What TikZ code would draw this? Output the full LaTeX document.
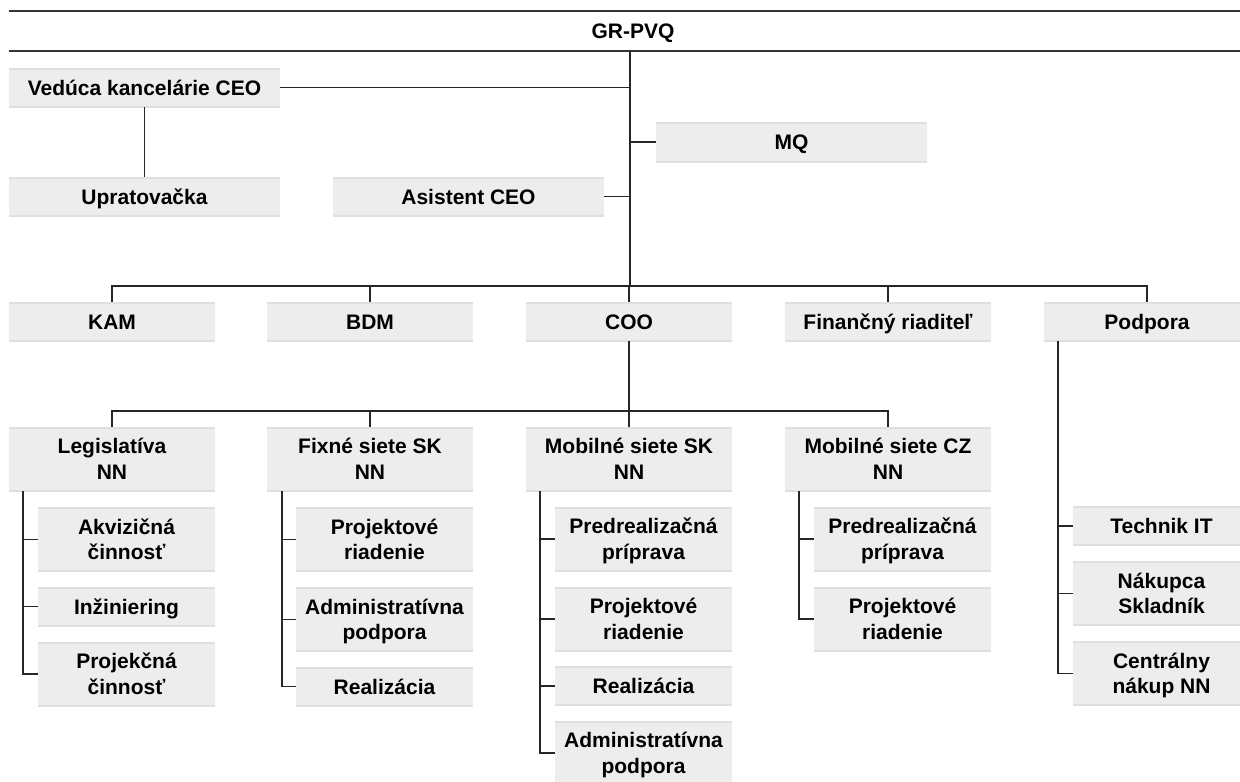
\documentclass[tikz,border=0pt]{standalone}
\usepackage{fontspec}
\setmainfont{Liberation Sans}
\definecolor{boxfill}{HTML}{EDEDED}
\definecolor{boxedge}{HTML}{DFDFDF}
\definecolor{conncol}{HTML}{262626}
\definecolor{topcol}{HTML}{333333}
\begin{document}
\begin{tikzpicture}[x=1pt,y=-1pt,
  box/.style={rectangle, fill=boxfill, inner sep=0pt, align=center,
    font=\bfseries\fontsize{21}{25.5}\selectfont,
    text height=15pt, text depth=0pt,
    minimum width=206pt, minimum height=39pt,
    path picture={\draw[boxedge,line width=3pt]
      (path picture bounding box.north west) -- (path picture bounding box.north east)
      (path picture bounding box.south west) -- (path picture bounding box.south east);}},
  two/.style={text height=40.5pt, text depth=0pt, minimum height=64pt},
  sub/.style={minimum width=177pt},
  wide/.style={minimum width=271pt},
  conn/.style={draw=conncol, line width=1.3pt},
  topline/.style={draw=topcol, line width=1.8pt}]
\useasboundingbox (0,0) rectangle (1240,782);
\fill[white] (0,0) rectangle (1240,782);
\clip (0,0) rectangle (1240,782);

% top
\node[box, fill=none, path picture={}, minimum width=1248pt, minimum height=40pt] (gr) at (633,31) {GR-PVQ};
\draw[topline] (gr.north west) -- (gr.north east);
\draw[topline] (gr.south west) -- (gr.south east);

% upper staff
\node[box, wide] (ved) at (144.5,87.5) {Vedúca kancelárie CEO};
\node[box, wide] (upr) at (144.5,196.5) {Upratovačka};
\node[box, wide] (asi) at (468.5,196.5) {Asistent CEO};
\node[box, wide, minimum height=40pt] (mq) at (791.5,142) {MQ};

% level 2
\node[box] (kam) at (112,321.5) {KAM};
\node[box] (bdm) at (370,321.5) {BDM};
\node[box] (coo) at (629,321.5) {COO};
\node[box] (fin) at (888,321.5) {Finančný riaditeľ};
\node[box] (pod) at (1147,321.5) {Podpora};

% level 3
\node[box, two] (leg) at (112,459) {Legislatíva\\NN};
\node[box, two] (fix) at (370,459) {Fixné siete SK\\NN};
\node[box, two] (msk) at (629,459) {Mobilné siete SK\\NN};
\node[box, two] (mcz) at (888,459) {Mobilné siete CZ\\NN};

% Legislativa subs
\node[box, sub, two] (akv) at (126.5,539.5) {Akvizičná\\činnosť};
\node[box, sub] (inz) at (126.5,606.5) {Inžiniering};
\node[box, sub, two] (prc) at (126.5,674) {Projekčná\\činnosť};

% Fixne subs
\node[box, sub, two] (fpr) at (384.5,539.5) {Projektové\\riadenie};
\node[box, sub, two] (fad) at (384.5,619.5) {Administratívna\\podpora};
\node[box, sub] (fre) at (384.5,686.5) {Realizácia};

% Mobilne SK subs
\node[box, sub, two] (spp) at (643.5,539) {Predrealizačná\\príprava};
\node[box, sub, two] (spr) at (643.5,619) {Projektové\\riadenie};
\node[box, sub] (sre) at (643.5,686) {Realizácia};
\node[box, sub, two] (sad) at (643.5,753) {Administratívna\\podpora};

% Mobilne CZ subs
\node[box, sub, two] (cpp) at (902.5,539) {Predrealizačná\\príprava};
\node[box, sub, two] (cpr) at (902.5,619) {Projektové\\riadenie};

% Podpora subs
\node[box, sub] (tit) at (1161.5,526) {Technik IT};
\node[box, sub, two] (nak) at (1161.5,593.5) {Nákupca\\Skladník};
\node[box, sub, two] (cen) at (1161.5,673.5) {Centrálny\\nákup NN};

% coordinates
\coordinate (trunk) at (630,0);
\coordinate (bus1) at (0,286);
\coordinate (bus2) at (0,411);
\coordinate (xl) at (23,0);
\coordinate (xf) at (282,0);
\coordinate (xs) at (540,0);
\coordinate (xc) at (799,0);
\coordinate (xp) at (1058,0);

% connectors top
\draw[conn] (gr.south -| trunk) -- (bus1 -| trunk);
\draw[conn] (ved.east) -- (ved.east -| trunk);
\draw[conn] (mq.west) -- (mq.west -| trunk);
\draw[conn] (asi.east) -- (asi.east -| trunk);
\draw[conn] (ved.south) -- (upr.north);

% bus 1
\draw[conn] (kam.north) |- (bus1 -| pod) -- (pod.north);
\draw[conn] (bdm.north) -- (bdm.north |- bus1);
\draw[conn] (coo.north) -- (coo.north |- bus1);
\draw[conn] (fin.north) -- (fin.north |- bus1);

% bus 2
\draw[conn] (coo.south) -- (coo.south |- bus2);
\draw[conn] (leg.north) |- (bus2 -| mcz) -- (mcz.north);
\draw[conn] (fix.north) -- (fix.north |- bus2);
\draw[conn] (msk.north) -- (msk.north |- bus2);

% Legislativa
\draw[conn] (leg.south -| xl) |- (prc.west);
\draw[conn] (akv.west) -- (akv.west -| xl);
\draw[conn] (inz.west) -- (inz.west -| xl);

% Fixne
\draw[conn] (fix.south -| xf) |- (fre.west);
\draw[conn] (fpr.west) -- (fpr.west -| xf);
\draw[conn] (fad.west) -- (fad.west -| xf);

% Mobilne SK
\draw[conn] (msk.south -| xs) |- (sad.west);
\draw[conn] (spp.west) -- (spp.west -| xs);
\draw[conn] (spr.west) -- (spr.west -| xs);
\draw[conn] (sre.west) -- (sre.west -| xs);

% Mobilne CZ
\draw[conn] (mcz.south -| xc) |- (cpr.west);
\draw[conn] (cpp.west) -- (cpp.west -| xc);

% Podpora
\draw[conn] (pod.south -| xp) |- (cen.west);
\draw[conn] (tit.west) -- (tit.west -| xp);
\draw[conn] (nak.west) -- (nak.west -| xp);
\end{tikzpicture}
\end{document}
